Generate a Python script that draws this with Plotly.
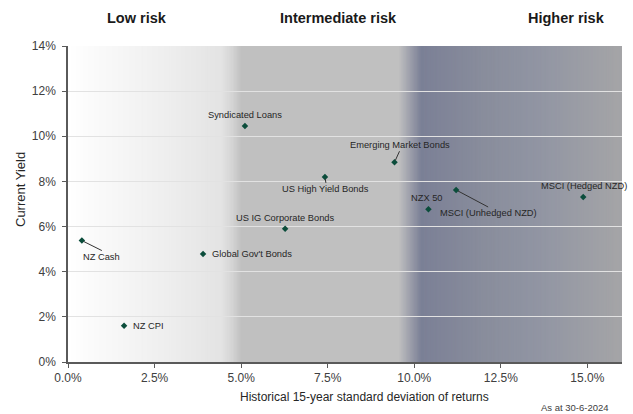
import plotly.graph_objects as go

# Asset classes: 15-year return volatility (%) vs current yield (%)
assets = [
    "NZ Cash", "NZ CPI", "Global Gov't Bonds", "Syndicated Loans",
    "US IG Corporate Bonds", "US High Yield Bonds", "Emerging Market Bonds",
    "NZX 50", "MSCI (Unhedged NZD)", "MSCI (Hedged NZD)",
]
std_dev = [0.40, 1.62, 3.90, 5.11, 6.27, 7.42, 9.43, 10.41, 11.21, 14.88]
current_yield = [5.38, 1.61, 4.79, 10.46, 5.90, 8.20, 8.85, 6.77, 7.62, 7.31]

x_ticks = [0, 2.5, 5, 7.5, 10, 12.5, 15]
y_ticks = [0, 2, 4, 6, 8, 10, 12, 14]
risk_bands = ["Low risk", "Intermediate risk", "Higher risk"]
band_centres = [2.0, 7.8, 14.4]

FONT = "Liberation Sans, Arial, sans-serif"
W, H = 633, 414
M_L, M_R, M_T, M_B = 68, 11, 46, 52
X_MAX, Y_MAX = 16, 14

# background shading that runs from white through grey to blue-grey
BG_STOPS = [
    (0.0, "#ffffff"), (3.2, "#ececec"), (4.45, "#e3e3e3"), (4.75, "#d3d3d3"),
    (5.0, "#c0c0c0"), (9.55, "#c0c0c0"), (9.85, "#a0a2ad"), (10.2, "#7b8096"),
    (12.0, "#898d9c"), (13.6, "#9195a3"), (16.0, "#a5a5a7"),
]


def hex_to_rgb(h):
    h = h.lstrip("#")
    return tuple(int(h[i:i + 2], 16) for i in (0, 2, 4))


def shade_at(x):
    for (x0, c0), (x1, c1) in zip(BG_STOPS[:-1], BG_STOPS[1:]):
        if x0 <= x <= x1:
            t = 0 if x1 == x0 else (x - x0) / (x1 - x0)
            a, b = hex_to_rgb(c0), hex_to_rgb(c1)
            return "rgb(%d,%d,%d)" % tuple(round(a[i] + (b[i] - a[i]) * t) for i in range(3))
    return BG_STOPS[-1][1]


# narrow overlapping strips; each one paints over the right half of the previous
shapes = []
step = 0.04
n = int(round(X_MAX / step))
for i in range(n):
    x0 = i * step
    x1 = min(x0 + 2 * step, X_MAX)
    shapes.append(dict(
        type="rect", xref="x", yref="y", x0=x0, x1=x1, y0=0, y1=Y_MAX,
        fillcolor=shade_at(x0 + step / 2), line=dict(width=0), layer="below",
    ))

fig = go.Figure()
fig.add_trace(go.Scatter(
    x=std_dev, y=current_yield, mode="markers", text=assets,
    marker=dict(symbol="diamond", size=5, color="#0b4d3b"),
    hoverinfo="text", showlegend=False,
))

# label placement per asset: (xshift, yshift, xanchor) or leader line (ax, ay, yanchor)
label_style = {
    "NZ Cash": dict(arrow=(20, 10, "top")),
    "NZ CPI": dict(shift=(7, 0, "left")),
    "Global Gov't Bonds": dict(shift=(7, 0, "left")),
    "Syndicated Loans": dict(shift=(0, 11, "center")),
    "US IG Corporate Bonds": dict(shift=(0, 11, "center")),
    "US High Yield Bonds": dict(arrow=(1, 6, "top")),
    "Emerging Market Bonds": dict(arrow=(5, -11, "bottom")),
    "NZX 50": dict(shift=(-1, 11, "center")),
    "MSCI (Unhedged NZD)": dict(arrow=(32, 17, "top")),
    "MSCI (Hedged NZD)": dict(shift=(1, 11, "center")),
}

annotations = []
lab_font = dict(family=FONT, size=9.3, color="#262626")
for name, xv, yv in zip(assets, std_dev, current_yield):
    st = label_style[name]
    if "arrow" in st:
        ax, ay, ya = st["arrow"]
        annotations.append(dict(
            x=xv, y=yv, xref="x", yref="y", text=name, showarrow=True,
            ax=ax, ay=ay, arrowhead=0, arrowwidth=1, arrowcolor="#333333",
            standoff=2, xanchor="center", yanchor=ya, borderpad=0, font=lab_font,
        ))
    else:
        xs, ys, xa = st["shift"]
        annotations.append(dict(
            x=xv, y=yv, xref="x", yref="y", text=name, showarrow=False,
            xshift=xs, yshift=ys, xanchor=xa, yanchor="middle", font=lab_font,
        ))

plot_h = H - M_T - M_B


def paper_y(py):
    return (H - M_B - py) / plot_h


for band, xc in zip(risk_bands, band_centres):
    annotations.append(dict(
        x=xc, y=paper_y(18), xref="x", yref="paper", text="<b>%s</b>" % band,
        showarrow=False, xanchor="center", yanchor="middle",
        font=dict(family=FONT, size=14.5, color="#1a1a1a"),
    ))

annotations.append(dict(
    x=(364 - M_L) / (W - M_L - M_R), y=paper_y(397), xref="paper", yref="paper",
    text="Historical 15-year standard deviation of returns", showarrow=False,
    xanchor="center", yanchor="middle", font=dict(family=FONT, size=12, color="#262626"),
))
annotations.append(dict(
    x=(20 - M_L) / (W - M_L - M_R), y=paper_y(190), xref="paper", yref="paper",
    text="Current Yield", textangle=-90, showarrow=False,
    xanchor="center", yanchor="middle", font=dict(family=FONT, size=13, color="#262626"),
))
annotations.append(dict(
    x=(611 - M_L) / (W - M_L - M_R), y=paper_y(407), xref="paper", yref="paper",
    text="As at 30-6-2024", showarrow=False, xanchor="right", yanchor="middle",
    font=dict(family=FONT, size=9.5, color="#404040"),
))

fig.update_layout(
    width=W, height=H, autosize=False,
    margin=dict(l=M_L, r=M_R, t=M_T, b=M_B, pad=0),
    paper_bgcolor="white", plot_bgcolor="white",
    shapes=shapes, annotations=annotations,
    xaxis=dict(
        range=[0, X_MAX], tickvals=x_ticks, ticktext=["%.1f%%" % v for v in x_ticks],
        showgrid=False, zeroline=False, showline=True, linecolor="#5a5a5a", linewidth=1.5,
        ticks="outside", ticklen=4, tickcolor="#5a5a5a", tickwidth=1,
        tickfont=dict(family=FONT, size=12, color="#404040"), fixedrange=True,
    ),
    yaxis=dict(
        range=[0, Y_MAX], tickvals=y_ticks, ticktext=["%d%%" % v for v in y_ticks],
        showgrid=True, gridcolor="#e2e2e2", gridwidth=1, zeroline=False,
        showline=True, linecolor="#5a5a5a", linewidth=1.5,
        ticks="outside", ticklen=4, tickcolor="#5a5a5a", tickwidth=1,
        ticklabelstandoff=4,
        tickfont=dict(family=FONT, size=12, color="#404040"), fixedrange=True,
    ),
)

fig.write_html("out.html")
